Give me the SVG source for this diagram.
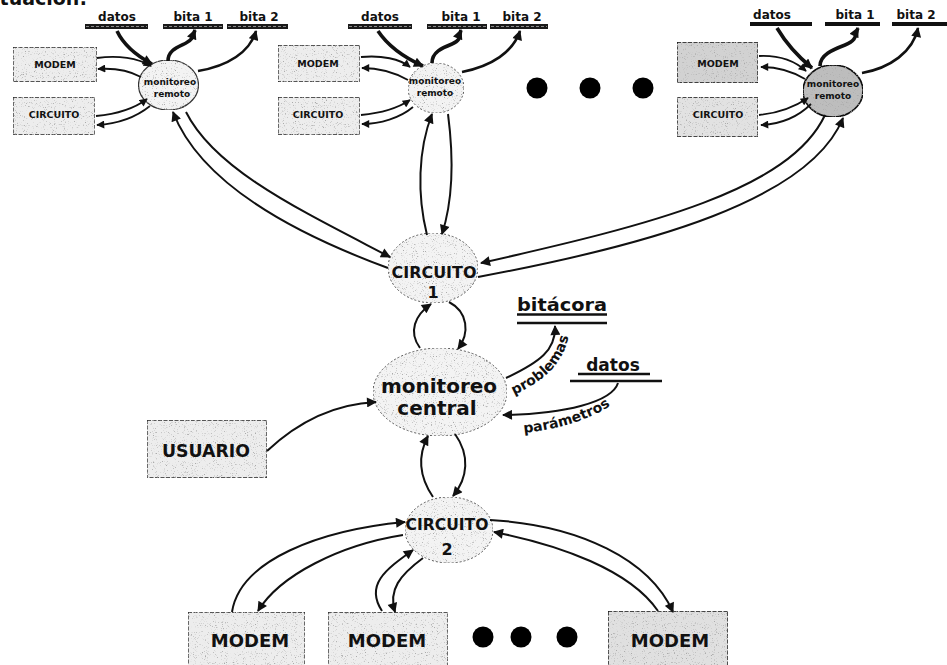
<svg xmlns="http://www.w3.org/2000/svg" width="947" height="665" viewBox="0 0 947 665">
  <defs>
    <style>
      .box { fill:#ededed; stroke:#222; stroke-width:1.3; stroke-dasharray:4 1.5; }
      .box-dk { fill:#d2d2d2; stroke:#111; stroke-width:1.4; stroke-dasharray:4 1.5; }
      .proc { fill:#f3f3f3; stroke:#555; stroke-width:1; stroke-dasharray:2 2; }
      .proc-dk { fill:#bdbdbd; stroke:#111; stroke-width:1.6; }
      .lbl { font-family:"DejaVu Sans","Liberation Sans",sans-serif; font-weight:bold; fill:#111; text-anchor:middle; }
      .flow { fill:none; stroke:#111; stroke-width:2; }
      .fine { fill:none; stroke:#111; stroke-width:1.8; }
      .heavy { fill:none; stroke:#111; stroke-width:3.6; }
      .store { fill:#1a1a1a; }
      .store-in { stroke:#8a8a8a; stroke-width:1; stroke-dasharray:3 2; }
      .rule { stroke:#111; stroke-width:2.4; }
      .dot { fill:#000; }
    </style>
    <filter id="grain" x="0" y="0" width="1" height="1">
      <feTurbulence type="fractalNoise" baseFrequency="0.9" numOctaves="2" seed="7" result="noise"/>
      <feColorMatrix in="noise" type="matrix" values="0 0 0 0 0.4  0 0 0 0 0.4  0 0 0 0 0.4  5 0 0 0 -3" result="specks"/>
      <feComposite in="specks" in2="SourceAlpha" operator="in" result="clipped"/>
      <feMerge><feMergeNode in="SourceGraphic"/><feMergeNode in="clipped"/></feMerge>
    </filter>
    <marker id="ah" viewBox="0 0 10 10" refX="9" refY="5" markerWidth="12" markerHeight="10" markerUnits="userSpaceOnUse" orient="auto">
      <path d="M0,0 L10,5 L0,10 z" fill="#111"/>
    </marker>
    <marker id="ahs" viewBox="0 0 10 10" refX="9" refY="5" markerWidth="9" markerHeight="8" markerUnits="userSpaceOnUse" orient="auto">
      <path d="M0,0 L10,5 L0,10 z" fill="#111"/>
    </marker>
  </defs>

  <rect width="947" height="665" fill="#fff"/>

  <!-- heading fragment along the top edge -->
  <text x="87" y="5" class="lbl" style="text-anchor:end;font-size:19px">tuación:</text>

  <!-- ===== remote site 1 ===== -->
  <g id="r1-datos">
    <text x="117" y="21" class="lbl" font-size="12">datos</text>
    <rect x="85" y="24" width="63" height="5" class="store"/>
    <line x1="86" y1="26.5" x2="147" y2="26.5" class="store-in"/>
  </g>
  <g id="r1-bita1">
    <text x="193" y="21" class="lbl" font-size="12">bita 1</text>
    <rect x="163" y="24" width="60" height="5" class="store"/>
    <line x1="164" y1="26.5" x2="222" y2="26.5" class="store-in"/>
  </g>
  <g id="r1-bita2">
    <text x="259" y="21" class="lbl" font-size="12">bita 2</text>
    <rect x="227" y="24" width="61" height="5" class="store"/>
    <line x1="228" y1="26.5" x2="287" y2="26.5" class="store-in"/>
  </g>
  <g id="r1-modem">
    <rect x="13" y="47" width="84" height="35" class="box" filter="url(#grain)"/>
    <text x="55" y="68" class="lbl" font-size="9.5">MODEM</text>
  </g>
  <g id="r1-circuito">
    <rect x="13" y="97" width="82" height="38" class="box" filter="url(#grain)"/>
    <text x="54" y="118" class="lbl" font-size="9.5">CIRCUITO</text>
  </g>
  <g id="r1-monitoreo">
    <ellipse cx="168.5" cy="85" rx="30" ry="25" class="proc" style="stroke:#333;stroke-dasharray:none;stroke-width:1.2" filter="url(#grain)"/>
    <text x="170" y="85" class="lbl" font-size="9">monitoreo</text>
    <text x="172" y="97" class="lbl" font-size="9">remoto</text>
  </g>

  <!-- ===== remote site 2 ===== -->
  <g id="r2-datos">
    <text x="380" y="21" class="lbl" font-size="12">datos</text>
    <rect x="348" y="24" width="64" height="5" class="store"/>
    <line x1="349" y1="26.5" x2="411" y2="26.5" class="store-in"/>
  </g>
  <g id="r2-bita1">
    <text x="461" y="21" class="lbl" font-size="12">bita 1</text>
    <rect x="427" y="24" width="60" height="5" class="store"/>
    <line x1="428" y1="26.5" x2="486" y2="26.5" class="store-in"/>
  </g>
  <g id="r2-bita2">
    <text x="522" y="21" class="lbl" font-size="12">bita 2</text>
    <rect x="490" y="24" width="58" height="5" class="store"/>
    <line x1="491" y1="26.5" x2="547" y2="26.5" class="store-in"/>
  </g>
  <g id="r2-modem">
    <rect x="278" y="45" width="82" height="37" class="box" filter="url(#grain)"/>
    <text x="318" y="67" class="lbl" font-size="9.5">MODEM</text>
  </g>
  <g id="r2-circuito">
    <rect x="278" y="97" width="82" height="38" class="box" filter="url(#grain)"/>
    <text x="318" y="118" class="lbl" font-size="9.5">CIRCUITO</text>
  </g>
  <g id="r2-monitoreo">
    <ellipse cx="436" cy="88" rx="28" ry="25" class="proc" filter="url(#grain)"/>
    <text x="435" y="84" class="lbl" font-size="9">monitoreo</text>
    <text x="435" y="96" class="lbl" font-size="9">remoto</text>
  </g>

  <!-- ellipsis between remote sites -->
  <g id="more-sites">
    <circle cx="537" cy="88" r="10.5" class="dot"/>
    <circle cx="590" cy="88" r="10.5" class="dot"/>
    <circle cx="643" cy="88" r="10.5" class="dot"/>
  </g>

  <!-- ===== remote site n ===== -->
  <g id="rn-datos">
    <text x="772" y="19" class="lbl" font-size="12">datos</text>
    <rect x="750" y="22" width="62" height="4" fill="#111"/>
  </g>
  <g id="rn-bita1">
    <text x="855" y="19" class="lbl" font-size="12">bita 1</text>
    <rect x="825" y="22" width="55" height="4" fill="#111"/>
  </g>
  <g id="rn-bita2">
    <text x="916" y="19" class="lbl" font-size="12">bita 2</text>
    <rect x="892" y="22" width="55" height="4" fill="#111"/>
  </g>
  <g id="rn-modem">
    <rect x="677" y="42" width="81" height="41" class="box-dk" filter="url(#grain)"/>
    <text x="718" y="67" class="lbl" font-size="9.5">MODEM</text>
  </g>
  <g id="rn-circuito">
    <rect x="677" y="97" width="81" height="40" class="box-dk" filter="url(#grain)" style="fill:#e2e2e2"/>
    <text x="718" y="118" class="lbl" font-size="9.5">CIRCUITO</text>
  </g>
  <g id="rn-monitoreo">
    <ellipse cx="833" cy="91" rx="30" ry="26" class="proc-dk" filter="url(#grain)"/>
    <text x="833" y="87" class="lbl" font-size="9">monitoreo</text>
    <text x="833" y="99" class="lbl" font-size="9">remoto</text>
  </g>

  <!-- ===== central site ===== -->
  <g id="circuito1">
    <ellipse cx="433" cy="268" rx="45" ry="35" class="proc" filter="url(#grain)"/>
    <text x="434" y="278" class="lbl" font-size="16" textLength="85" lengthAdjust="spacingAndGlyphs">CIRCUITO</text>
    <text x="433" y="298" class="lbl" font-size="16">1</text>
  </g>
  <g id="bitacora">
    <text x="562" y="311" class="lbl" font-size="18" textLength="90" lengthAdjust="spacingAndGlyphs">bitácora</text>
    <line x1="517" y1="314.5" x2="607" y2="314.5" class="rule"/>
    <line x1="517" y1="323" x2="607" y2="323" class="rule"/>
  </g>
  <g id="datos-central">
    <text x="613" y="371" class="lbl" font-size="17">datos</text>
    <line x1="578" y1="374" x2="650" y2="374" class="rule"/>
    <line x1="570" y1="381" x2="662" y2="381" class="rule"/>
  </g>
  <g id="monitoreo-central">
    <ellipse cx="440" cy="392" rx="67" ry="44" class="proc" filter="url(#grain)"/>
    <text x="439" y="393" class="lbl" font-size="20">monitoreo</text>
    <text x="437" y="415" class="lbl" font-size="20">central</text>
  </g>
  <g id="usuario">
    <rect x="147" y="420" width="120" height="58" class="box" filter="url(#grain)"/>
    <text x="206" y="457" class="lbl" font-size="18" textLength="88" lengthAdjust="spacingAndGlyphs">USUARIO</text>
  </g>
  <g id="circuito2">
    <ellipse cx="449" cy="530" rx="44" ry="33" class="proc" filter="url(#grain)"/>
    <text x="447" y="530" class="lbl" font-size="16" textLength="83" lengthAdjust="spacingAndGlyphs">CIRCUITO</text>
    <text x="447" y="555" class="lbl" font-size="16">2</text>
  </g>
  <g id="modem-a">
    <rect x="188" y="612" width="117" height="60" class="box" filter="url(#grain)"/>
    <text x="250" y="647" class="lbl" font-size="18">MODEM</text>
  </g>
  <g id="modem-b">
    <rect x="328" y="612" width="120" height="60" class="box" filter="url(#grain)"/>
    <text x="387" y="647" class="lbl" font-size="18">MODEM</text>
  </g>
  <g id="more-modems">
    <circle cx="483" cy="637" r="10.5" class="dot"/>
    <circle cx="521" cy="637" r="10.5" class="dot"/>
    <circle cx="567" cy="637" r="10.5" class="dot"/>
  </g>
  <g id="modem-n">
    <rect x="608" y="611" width="120" height="61" class="box-dk" filter="url(#grain)" style="fill:#e0e0e0"/>
    <text x="670" y="647" class="lbl" font-size="18">MODEM</text>
  </g>

  <!-- ===== flows ===== -->
  <g id="connectors">
    <!-- remote site 1 -->
    <path d="M117,31 Q126,50 152,64" class="heavy" marker-end="url(#ah)"/>
    <path d="M168,61 C168,50 178,47 186,43 C194,39 193,35 195,30" class="heavy" marker-end="url(#ah)"/>
    <path d="M198,71 C228,66 250,52 256,31" class="flow" style="stroke-width:2.6" marker-end="url(#ah)"/>
    <path d="M97,58 C118,55 138,58 151,66" class="fine" marker-end="url(#ahs)"/>
    <path d="M141,77 C128,70 113,68 98,69" class="fine" marker-end="url(#ahs)"/>
    <path d="M96,116 C118,114 135,108 147,99" class="fine" marker-end="url(#ahs)"/>
    <path d="M150,106 C135,118 115,124 97,125" class="fine" marker-end="url(#ahs)"/>
    <path d="M388,268 C290,232 200,182 173,112" class="flow" marker-end="url(#ah)"/>
    <path d="M186,112 C215,170 300,210 390,257" class="flow" marker-end="url(#ah)"/>

    <!-- remote site 2 -->
    <path d="M378,31 Q392,52 423,66" class="heavy" marker-end="url(#ah)"/>
    <path d="M432,63 C432,52 442,48 452,44 C462,40 459,35 461,30" class="heavy" marker-end="url(#ah)"/>
    <path d="M462,72 C492,66 513,52 520,31" class="flow" style="stroke-width:2.6" marker-end="url(#ah)"/>
    <path d="M361,57 C382,55 400,59 410,67" class="fine" marker-end="url(#ahs)"/>
    <path d="M408,80 C392,71 377,68 362,68" class="fine" marker-end="url(#ahs)"/>
    <path d="M361,115 C382,113 398,108 410,100" class="fine" marker-end="url(#ahs)"/>
    <path d="M413,107 C400,118 380,124 362,124" class="fine" marker-end="url(#ahs)"/>
    <path d="M427,235 C417,195 418,150 432,114" class="flow" marker-end="url(#ah)"/>
    <path d="M448,114 C454,160 453,200 442,234" class="flow" marker-end="url(#ah)"/>

    <!-- remote site n -->
    <path d="M777,28 Q790,50 812,68" class="heavy" marker-end="url(#ah)"/>
    <path d="M820,66 C820,55 832,50 845,45 C858,40 855,34 858,28" class="heavy" marker-end="url(#ah)"/>
    <path d="M862,73 C890,68 913,52 918,28" class="flow" style="stroke-width:2.6" marker-end="url(#ah)"/>
    <path d="M759,56 C780,55 796,62 806,71" class="fine" marker-end="url(#ahs)"/>
    <path d="M805,79 C790,70 775,67 761,67" class="fine" marker-end="url(#ahs)"/>
    <path d="M759,115 C780,113 796,106 808,98" class="fine" marker-end="url(#ahs)"/>
    <path d="M811,104 C798,117 780,124 761,125" class="fine" marker-end="url(#ahs)"/>
    <path d="M825,115 C790,190 650,225 481,263" class="flow" marker-end="url(#ah)"/>
    <path d="M478,277 C650,245 810,200 843,118" class="flow" marker-end="url(#ah)"/>

    <!-- central site -->
    <path d="M420,348 C408,332 415,315 431,304" class="flow" marker-end="url(#ah)"/>
    <path d="M449,302 C468,312 470,333 458,349" class="flow" marker-end="url(#ah)"/>
    <path d="M267,451 C300,420 335,404 376,402" class="flow" marker-end="url(#ah)"/>
    <path id="to-bitacora" d="M506,378 C540,362 556,350 555,326" class="flow" marker-end="url(#ah)"/>
    <path d="M618,383 C612,402 565,414 503,415" class="flow" marker-end="url(#ah)"/>
    <path d="M433,497 C418,475 418,455 428,436" class="flow" marker-end="url(#ah)"/>
    <path d="M455,434 C470,455 468,478 453,496" class="flow" marker-end="url(#ah)"/>

    <!-- circuito 2 to modems -->
    <path d="M232,612 C240,560 320,530 405,522" class="flow" marker-end="url(#ah)"/>
    <path d="M403,535 C340,545 280,575 258,611" class="flow" marker-end="url(#ah)"/>
    <path d="M382,611 C365,585 385,570 413,550" class="flow" marker-end="url(#ah)"/>
    <path d="M423,558 C400,575 388,590 395,612" class="flow" marker-end="url(#ah)"/>
    <path d="M490,520 C580,525 650,560 673,612" class="flow" marker-end="url(#ah)"/>
    <path d="M658,611 C630,570 560,545 494,532" class="flow" marker-end="url(#ah)"/>

    <!-- flow labels -->
    <path id="lbl-problemas" d="M514,395 C546,380 566,362 570,328" fill="none"/>
    <path id="lbl-parametros" d="M524,433 C560,429 600,418 622,396" fill="none"/>
    <text class="lbl" font-size="14" style="text-anchor:start"><textPath href="#lbl-problemas">problemas</textPath></text>
    <text class="lbl" font-size="14" style="text-anchor:start"><textPath href="#lbl-parametros">parámetros</textPath></text>
  </g>
</svg>
